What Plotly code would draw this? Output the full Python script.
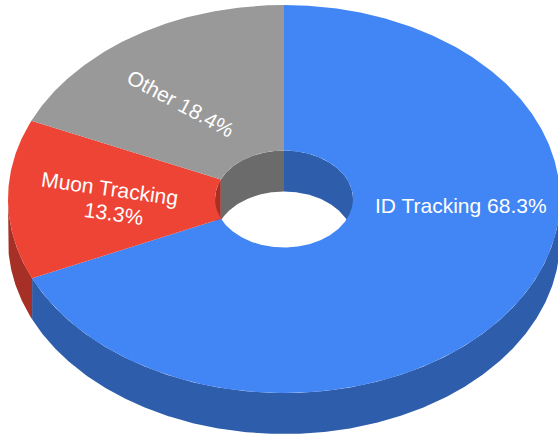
import numpy as np
import plotly.graph_objects as go

# --- data ---
categories = ["ID Tracking", "Muon Tracking", "Other"]
shares = [68.3, 13.3, 18.4]
top_colors = ["#4285f4", "#ee4436", "#999999"]
wall_colors = ["#2e5dab", "#a62f26", "#6b6b6b"]
header_text = "Fraction of total time"

# --- donut geometry (pixels of the 558x435 page) ---
CX, CY = 284.0, 199.0
RX, RY = 276.0, 194.0
HOLE = 0.25
DEPTH = 41.0


def arc(a0, a1, scale=1.0, dy=0.0):
    """Ellipse arc; angles in degrees clockwise from 12 o'clock."""
    n = max(2, int(abs(a1 - a0) * 2) + 1)
    t = np.radians(np.linspace(a0, a1, n))
    return CX + RX * scale * np.sin(t), CY - RY * scale * np.cos(t) + dy


def band(a0, a1, scale):
    """Side wall between the top rim and the same rim moved down by the depth."""
    x1, y1 = arc(a0, a1, scale)
    x2, y2 = arc(a1, a0, scale, DEPTH)
    return np.r_[x1, x2, x1[0]], np.r_[y1, y2, y1[0]]


def sector(a0, a1):
    x1, y1 = arc(a0, a1, 1.0)
    x2, y2 = arc(a1, a0, HOLE)
    return np.r_[x1, x2, x1[0]], np.r_[y1, y2, y1[0]]


def poly(x, y, color):
    return go.Scatter(x=x, y=y, mode="lines", fill="toself", fillcolor=color,
                      line=dict(width=0, color=color), hoverinfo="skip", showlegend=False)


edges = np.r_[0, np.cumsum(shares)] / sum(shares) * 360.0
fig = go.Figure()

# walls: outer wall shows on the front half, hole wall on the back half
for i in range(len(shares)):
    a0, a1 = edges[i], edges[i + 1]
    lo, hi = max(a0, 90.0), min(a1, 270.0)
    if hi > lo:
        fig.add_trace(poly(*band(lo, hi, 1.0), wall_colors[i]))
    for lo, hi in ((max(a0, 0.0), min(a1, 90.0)), (max(a0, 270.0), min(a1, 360.0))):
        if hi > lo:
            fig.add_trace(poly(*band(lo, hi, HOLE), wall_colors[i]))

# top surface painted over the walls
for i in range(len(shares)):
    fig.add_trace(poly(*sector(edges[i], edges[i + 1]), top_colors[i]))

LABEL = dict(family="Liberation Sans, Arial, sans-serif", size=21, color="#ffffff")
fig.add_annotation(x=461, y=205, text=f"{categories[0]} {shares[0]}%", showarrow=False, font=LABEL)
fig.add_annotation(x=110, y=188, text=categories[1], showarrow=False, font=LABEL, textangle=8)
fig.add_annotation(x=114, y=213, text=f"{shares[1]}%", showarrow=False, font=LABEL, textangle=8)
fig.add_annotation(x=181, y=103, text=f"{categories[2]} {shares[2]}%", showarrow=False,
                   font=LABEL, textangle=28.5)
fig.add_annotation(xref="paper", yref="paper", x=0.005, y=1.0, yanchor="bottom", xanchor="left",
                   yshift=-5, text=header_text, showarrow=False,
                   font=dict(family="Liberation Sans, Arial, sans-serif", size=15, color="#999999"))

fig.update_layout(
    width=558, height=435, margin=dict(l=0, r=0, t=0, b=0),
    paper_bgcolor="#ffffff", plot_bgcolor="#ffffff", showlegend=False,
    xaxis=dict(range=[0, 558], visible=False, fixedrange=True),
    yaxis=dict(range=[435, 0], visible=False, fixedrange=True),
)
fig.write_html("out.html", config={"displayModeBar": False},
               post_script="document.body.style.margin='0';document.body.style.overflow='hidden';")
